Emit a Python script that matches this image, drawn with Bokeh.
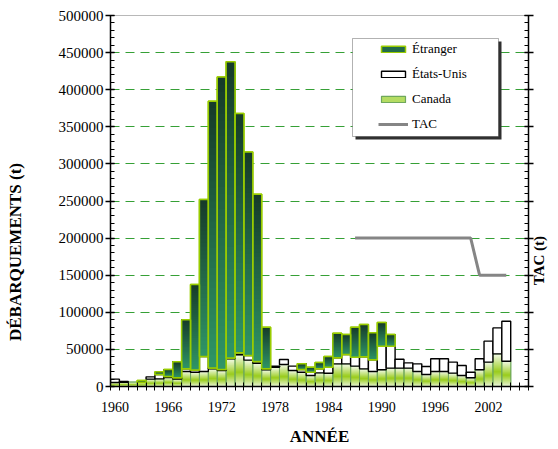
import math
from bokeh.plotting import figure
from bokeh.models import (Range1d, LinearAxis, FixedTicker, Legend, LegendItem,
                          BoxAnnotation, NumeralTickFormatter, CustomJSTickFormatter)
from bokeh.embed import file_html
from bokeh.resources import INLINE

# ---------------- data ----------------
years = list(range(1960, 2005))
canada = [5400, 5800, 5800, 5400, 9900, 10300, 12100, 9900, 20200, 19300,
          20200, 23800, 21500, 37200, 42700, 35500, 31400, 22500, 26000, 29600,
          21500, 19300, 14800, 18400, 17900, 30500, 30500, 27400, 23800, 20200,
          22500, 24700, 24700, 24700, 20200, 16200, 20200, 20200, 18000, 14800,
          11700, 22500, 32800, 44000, 34100]
usa = [4500, 900, 0, 0, 3100, 5900, 1400, 1800, 3600, 3100,
       20200, 1300, 1400, 1300, 2700, 6300, 2200, 1300, 1400, 6800,
       5900, 3600, 4500, 5400, 8100, 8100, 12600, 12100, 16200, 15700,
       31800, 29600, 12100, 7200, 10300, 10700, 17100, 17100, 14800, 13500,
       7600, 14800, 28300, 35000, 53900]
etranger = [0, 0, 0, 2700, 0, 3600, 9400, 21500, 66000, 115100,
            211600, 359500, 394100, 399200, 322600, 274100, 225600, 56200, 0, 0,
            0, 7600, 6700, 8500, 14400, 33200, 26900, 40500, 43500, 36400,
            31900, 15700, 0, 0, 0, 0, 0, 0, 0, 0,
            0, 0, 0, 0, 0]
tac_years = [1987, 1988, 1989, 1990, 1991, 1992, 1993, 1994, 1995, 1996,
             1997, 1998, 1999, 2000, 2001, 2002, 2003, 2004]
tac = [200000, 200000, 200000, 200000, 200000, 200000, 200000, 200000, 200000,
       200000, 200000, 200000, 200000, 200000, 150000, 150000, 150000, 150000]
x_tick_labels = [1960, 1966, 1972, 1978, 1984, 1990, 1996, 2002]
y_ticks = [0, 50000, 100000, 150000, 200000, 250000, 300000, 350000, 400000, 450000, 500000]

# ---------------- layout / style ----------------
FONT = "Liberation Serif"
NBSP = "\u00a0"
X0, X1 = 1959.5, 2006.5
Y0, Y1 = 0, 500000
FRAME_W, FRAME_H = 418.0, 371.0

p = figure(width=558, height=449, output_backend="svg", toolbar_location=None,
           x_range=Range1d(X0, X1), y_range=Range1d(Y0, Y1),
           min_border_left=110, min_border_right=30, min_border_top=15,
           min_border_bottom=63)
p.extra_y_ranges = {"tac": Range1d(Y0, Y1)}
p.outline_line_color = "#b8b8b8"
p.background_fill_color = "white"
p.border_fill_color = "white"

p.xgrid.visible = False
p.ygrid.ticker = FixedTicker(ticks=y_ticks)
p.ygrid.grid_line_color = "#36a036"
p.ygrid.grid_line_dash = "9 6"
p.ygrid.grid_line_width = 1


def hex2rgb(h):
    h = h.lstrip("#")
    return tuple(int(h[i:i + 2], 16) for i in (0, 2, 4))


def lerp(c1, c2, t):
    a, b = hex2rgb(c1), hex2rgb(c2)
    return "#%02x%02x%02x" % tuple(int(round(a[i] + (b[i] - a[i]) * t)) for i in range(3))


def etr_col(f):
    return lerp("#2f9667", "#163a29", f)


def can_col(f):
    mid = 0.45
    if f < mid:
        return lerp("#eaf5da", "#99cc1c", f / mid)
    return lerp("#99cc1c", "#f3faea", (f - mid) / (1 - mid))


def gradient_bars(xs, bots, tops, colfun, n=40):
    # each slice is drawn from its lower edge up to the bar top, so later
    # slices overwrite the upper part of earlier ones (no seams)
    for k in range(n):
        f0 = k / n
        col = colfun((k + 0.5) / n)
        b = [lo + (hi - lo) * f0 for lo, hi in zip(bots, tops)]
        p.vbar(x=xs, bottom=b, top=tops, width=1.0, fill_color=col,
               line_color=None)


# Canada (bottom)
cx = [y for y, c in zip(years, canada) if c > 0]
cb = [0 for c in canada if c > 0]
ct = [c for c in canada if c > 0]
r_c = p.vbar(x=cx, bottom=cb, top=ct, width=1.0, fill_color="#b4dc62",
             line_color="#6fa85c", line_width=1.2)
gradient_bars(cx, cb, ct, can_col)
p.vbar(x=cx, bottom=cb, top=ct, width=1.0, fill_color=None,
       line_color="#6fa85c", line_width=1)

# États-Unis (middle)
ux, ub, ut = [], [], []
for y, c, u in zip(years, canada, usa):
    if u > 0:
        ux.append(y); ub.append(c); ut.append(c + u)
r_u = p.vbar(x=ux, bottom=ub, top=ut, width=1.0, fill_color="white",
             line_color="black", line_width=1.4)

# Étranger (top)
ex, eb, et = [], [], []
for y, c, u, e in zip(years, canada, usa, etranger):
    if e > 0:
        ex.append(y); eb.append(c + u); et.append(c + u + e)
r_e = p.vbar(x=ex, bottom=eb, top=et, width=1.0, fill_color="#226b4a",
             line_color="#99cc00", line_width=1.5)
gradient_bars(ex, eb, et, etr_col)
p.vbar(x=ex, bottom=eb, top=et, width=1.0, fill_color=None,
       line_color="#99cc00", line_width=1.5)

# TAC line
r_tac = p.line(tac_years, tac, line_color="#858585", line_width=3,
               y_range_name="tac")

# ---------------- axes ----------------
ya = p.yaxis[0]
ya.ticker = FixedTicker(ticks=y_ticks, minor_ticks=list(range(0, 500001, 10000)))
ya.formatter = NumeralTickFormatter(format="0")
ya.major_tick_in = 4
ya.major_tick_out = 5
ya.minor_tick_in = 4
ya.minor_tick_out = 0
ya.major_label_standoff = 2
# trailing no-break spaces push the visible title below the frame centre, as in the original
ya.axis_label = "DÉBARQUEMENTS  (t)" + NBSP * 23
ya.axis_label_standoff = 31

xa = p.xaxis[0]
xa.ticker = FixedTicker(ticks=x_tick_labels,
                        minor_ticks=[v - 0.5 for v in range(1960, 2008)])
xa.formatter = NumeralTickFormatter(format="0")
xa.major_tick_in = 0
xa.major_tick_out = 0
xa.minor_tick_in = 4
xa.minor_tick_out = 4
xa.major_label_standoff = 11
xa.axis_label = "ANNÉE"
xa.axis_label_standoff = 12

ra = LinearAxis(y_range_name="tac",
                ticker=FixedTicker(ticks=y_ticks, minor_ticks=list(range(0, 500001, 10000))),
                formatter=CustomJSTickFormatter(code="return ''"))
ra.major_tick_in = 4
ra.major_tick_out = 5
ra.minor_tick_in = 4
ra.minor_tick_out = 0
ra.major_label_standoff = 0
ra.axis_label_orientation = math.pi / 2
ra.axis_label_standoff = 5
try:
    ra.axis_label_align = "start"
    ra.axis_label = NBSP * 27 + "TAC  (t)"
except AttributeError:
    ra.axis_label = "TAC  (t)"
p.add_layout(ra, "right")

for ax in (ya, xa, ra):
    ax.axis_line_color = "black"
    ax.axis_line_width = 1.5
    ax.major_tick_line_color = "black"
    ax.minor_tick_line_color = "black"
    ax.major_tick_line_width = 1.3
    ax.minor_tick_line_width = 1
    ax.major_label_text_font = FONT
    ax.major_label_text_font_size = "14px"
    ax.major_label_text_color = "black"
    ax.axis_label_text_font = FONT
    ax.axis_label_text_font_size = "17px"
    ax.axis_label_text_font_style = "bold"
    ax.axis_label_text_color = "black"
ya.major_label_text_font_size = "15px"
ra.axis_label_text_font_size = "15px"

# ---------------- legend ----------------
px_x = (X1 - X0) / FRAME_W
px_y = (Y1 - Y0) / FRAME_H
box_l = X0 + 242 * px_x
box_r = X0 + 388 * px_x
box_t = Y1 - 23 * px_y
box_b = Y1 - 121 * px_y
shadow = BoxAnnotation(left=box_l + 3 * px_x, right=box_r + 3 * px_x,
                       top=box_t - 3 * px_y, bottom=box_b - 3 * px_y,
                       fill_color="#303030", fill_alpha=1, line_color=None)
box = BoxAnnotation(left=box_l, right=box_r, top=box_t, bottom=box_b,
                    fill_color="white", fill_alpha=1, line_color="black", line_width=1)
p.add_layout(shadow)
p.add_layout(box)

legend = Legend(items=[LegendItem(label="Étranger", renderers=[r_e]),
                       LegendItem(label="États-Unis", renderers=[r_u]),
                       LegendItem(label="Canada", renderers=[r_c]),
                       LegendItem(label="TAC", renderers=[r_tac])],
                location=(268, 253), orientation="vertical",
                background_fill_alpha=0, border_line_alpha=0,
                padding=0, margin=0, spacing=6, label_height=19,
                glyph_height=8, glyph_width=30, label_standoff=4,
                label_text_font=FONT, label_text_font_size="13px",
                label_text_color="black")
p.add_layout(legend)

open("out.html", "w").write(file_html(p, INLINE))
